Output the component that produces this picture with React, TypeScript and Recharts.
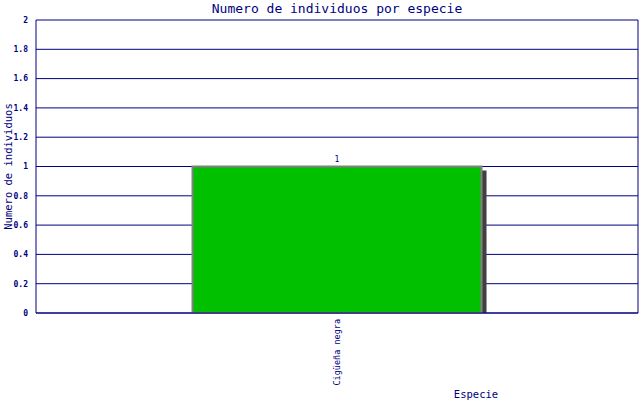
import { Bar, BarChart, CartesianGrid, LabelList, XAxis, YAxis } from "recharts";

const species = ["Cigüeña negra"];
const counts = [1];
const yTicks = [0, 0.2, 0.4, 0.6, 0.8, 1, 1.2, 1.4, 1.6, 1.8, 2];

const data = species.map((name, i) => ({ name, value: counts[i] }));

const NAVY = "#000080";
const FONT = "'DejaVu Sans Mono', monospace";

function ShadowBar(props: any) {
  const { x, y, width, height } = props;
  return (
    <g>
      <rect x={x + 5} y={y + 4} width={width} height={height - 4} fill="#404040" />
      <rect x={x} y={y} width={width} height={height} fill="#00c000" stroke="#808080" strokeWidth={2} />
    </g>
  );
}

function SpeciesTick(props: any) {
  const { x, y, payload } = props;
  const ty = y - 2;
  return (
    <text
      x={x}
      y={ty}
      transform={`rotate(-90, ${x}, ${ty})`}
      textAnchor="end"
      dominantBaseline="central"
      fontSize={8.5}
      fontFamily={FONT}
      fill={NAVY}
    >
      {payload.value}
    </text>
  );
}

function XTitle(props: any) {
  const { viewBox } = props;
  return (
    <text x={viewBox.x + 440} y={viewBox.y + 85} textAnchor="middle" fontSize={10.5} fontFamily={FONT} fill={NAVY}>
      Especie
    </text>
  );
}

function YTitle(props: any) {
  const { viewBox } = props;
  const cx = 8;
  const cy = viewBox.y + viewBox.height / 2;
  return (
    <text
      x={cx}
      y={cy}
      transform={`rotate(-90, ${cx}, ${cy})`}
      textAnchor="middle"
      dominantBaseline="central"
      fontSize={10.5}
      fontFamily={FONT}
      fill={NAVY}
    >
      Numero de individuos
    </text>
  );
}

export default function App() {
  return (
    <div style={{ position: "absolute", left: 0, top: 0, width: 640, height: 400, background: "#fff" }}>
      <div
        style={{
          position: "absolute",
          top: 0,
          left: 36,
          width: 602,
          textAlign: "center",
          fontFamily: FONT,
          fontSize: 13,
          color: NAVY,
          lineHeight: "18px",
        }}
      >
        Numero de individuos por especie
      </div>
      <BarChart width={640} height={400} data={data} margin={{ top: 20, right: 0, bottom: 0, left: 0 }} barCategoryGap="26%">
        <CartesianGrid vertical={false} stroke={NAVY} strokeWidth={1} />
        <XAxis
          dataKey="name"
          height={87}
          axisLine={{ stroke: NAVY }}
          tickLine={false}
          tick={<SpeciesTick />}
          interval={0}
          label={<XTitle />}
        />
        <YAxis
          width={36}
          domain={[0, 2]}
          ticks={yTicks}
          axisLine={{ stroke: NAVY }}
          tickLine={false}
          tick={{ fontSize: 8, fontFamily: FONT, fill: NAVY, fontWeight: "bold" }}
          tickMargin={2}
          label={<YTitle />}
        />
        <YAxis
          yAxisId="right"
          orientation="right"
          width={2}
          domain={[0, 2]}
          tick={false}
          tickLine={false}
          axisLine={{ stroke: NAVY }}
        />
        <Bar dataKey="value" shape={<ShadowBar />} isAnimationActive={false}>
          <LabelList dataKey="value" position="top" offset={5} fontSize={8} fontFamily={FONT} fill={NAVY} />
        </Bar>
      </BarChart>
    </div>
  );
}
